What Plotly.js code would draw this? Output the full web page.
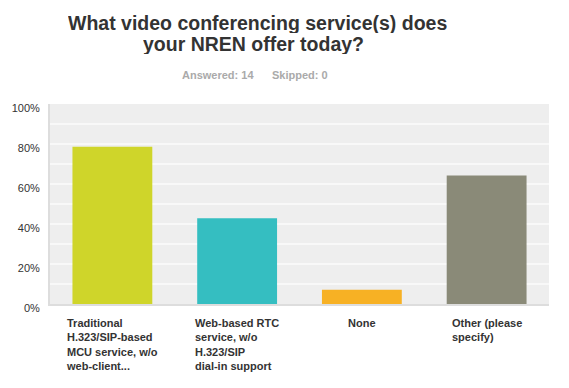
<!DOCTYPE html>
<html>
<head>
<meta charset="utf-8">
<script src="https://cdn.plot.ly/plotly-3.0.1.min.js"></script>
<style>html,body{margin:0;padding:0;background:#fff;}#chart{width:569px;height:388px;}</style>
</head>
<body>
<div id="chart"></div>
<script>
var categories = [
  "Traditional<br>H.323/SIP-based<br>MCU service, w/o<br>web-client...",
  "Web-based RTC<br>service, w/o<br>H.323/SIP<br>dial-in support",
  "None",
  "Other (please<br>specify)"
];
var values = [0.7857, 0.4286, 0.0714, 0.6429];
var colors = ["#cfd52a", "#35bec1", "#f7b124", "#8a8a78"];
var tickVals = [0,0.1,0.2,0.3,0.4,0.5,0.6,0.7,0.8,0.9,1.0];
var tickText = ["0%","","20%","","40%","","60%","","80%","","100%"];
var titleLines = ["What video conferencing service(s) does", "your NREN offer today?"];

var W = 569, H = 388, L = 50, R = 20, T = 104, B = 84;
var pw = W - L - R, ph = H - T - B;
function px2x(p){ return (p - L) / pw; }
function py2y(p){ return (H - B - p) / ph; }

var idx = categories.map(function(_, i){ return i; });
var trace = {
  type: "bar",
  x: idx,
  y: values,
  marker: {color: colors},
  hoverinfo: "skip"
};

var FONT = "Arial, Liberation Sans, sans-serif";
var annotations = [
  {text: "<b>" + titleLines[0] + "</b>", xref: "paper", yref: "paper", height: 21,
   x: px2x(257), y: py2y(22), xanchor: "center", yanchor: "middle", showarrow: false,
   font: {family: FONT, size: 19.5, color: "#333333"}},
  {text: "<b>" + titleLines[1] + "</b>", xref: "paper", yref: "paper", height: 21,
   x: px2x(253), y: py2y(43), xanchor: "center", yanchor: "middle", showarrow: false,
   font: {family: FONT, size: 19.5, color: "#333333"}},
  {text: "<b>Answered: 14</b>", xref: "paper", yref: "paper",
   x: px2x(256), y: py2y(75), xanchor: "right", yanchor: "middle", showarrow: false,
   font: {family: FONT, size: 11, color: "#aaaaaa"}},
  {text: "<b>Skipped: 0</b>", xref: "paper", yref: "paper",
   x: px2x(270), y: py2y(75), xanchor: "left", yanchor: "middle", showarrow: false,
   font: {family: FONT, size: 11, color: "#aaaaaa"}}
];
categories.forEach(function(c, i){
  annotations.push({
    text: "<b>" + c + "</b>", xref: "x", yref: "paper", x: i, y: py2y(315),
    xanchor: "center", yanchor: "top", align: "left", showarrow: false,
    font: {family: FONT, size: 11, color: "#333333"}
  });
});

var layout = {
  width: W, height: H,
  margin: {l: L, r: R, t: T, b: B, pad: 0},
  paper_bgcolor: "#ffffff",
  plot_bgcolor: "#eeeeee",
  showlegend: false,
  bargap: 0.36,
  font: {family: FONT, size: 11, color: "#333333"},
  xaxis: {
    range: [-0.5, 3.5], showticklabels: false, ticks: "", showgrid: false,
    zeroline: false, showline: true, linecolor: "#dddddd", linewidth: 2, fixedrange: true
  },
  yaxis: {
    range: [0, 1], tickvals: tickVals, ticktext: tickText, showgrid: true,
    gridcolor: "#f8f8f8", gridwidth: 2, zeroline: false, showline: true,
    linecolor: "#dddddd", linewidth: 2, ticks: "", ticklabelstandoff: 6, ticklabelshift: 4,
    tickfont: {family: FONT, size: 11, color: "#333333"},
    fixedrange: true
  },
  annotations: annotations
};

Plotly.newPlot("chart", [trace], layout, {displayModeBar: false, staticPlot: true});
</script>
</body>
</html>
